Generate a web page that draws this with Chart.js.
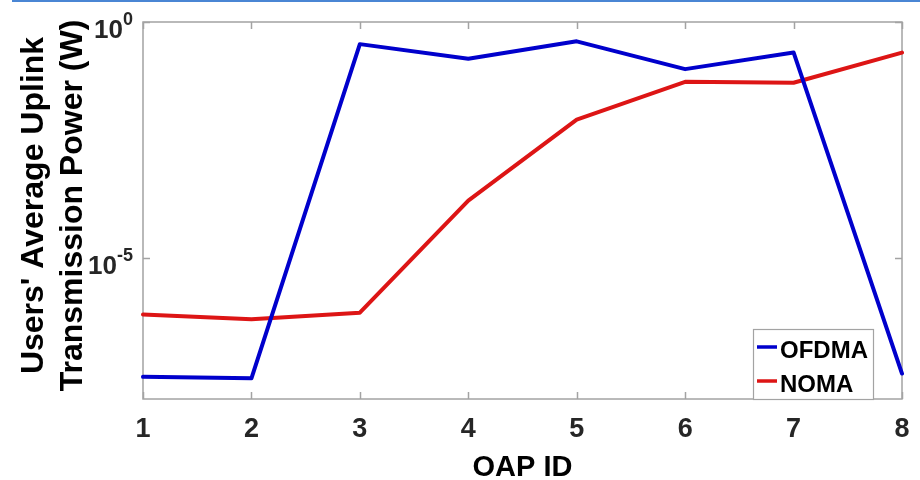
<!DOCTYPE html>
<html>
<head>
<meta charset="utf-8">
<script src="https://cdn.jsdelivr.net/npm/chart.js@4/dist/chart.umd.min.js"></script>
<style>
  html, body { margin: 0; padding: 0; background: #fff; }
  #wrap { position: relative; width: 920px; height: 480px; }
  #topbar { position: absolute; left: 12px; top: 0; width: 908px; height: 2px; background: #4a86d4; }
</style>
</head>
<body>
<div id="wrap">
  <canvas id="chart" width="920" height="480"></canvas>
  <div id="topbar"></div>
</div>
<script>
// OAP ids along x
const oapIds = ['1', '2', '3', '4', '5', '6', '7', '8'];
// average uplink transmit power (W)
const ofdmaPower = [2.95e-8, 2.75e-8, 0.339, 0.166, 0.389, 0.100, 0.226, 3.47e-8];
const nomaPower  = [6.2e-7, 4.9e-7, 6.8e-7, 1.62e-4, 8.5e-3, 0.0537, 0.0513, 0.224];
// labelled decades on the y axis: [value, exponent text]
const yTickValues = [1, 1e-5];
const yTickExps   = ['0', '-5'];

const FONT = '"Liberation Sans", Arial, sans-serif';
const AXIS_GREY = '#a3a3a3';
const TICK_TEXT = '#262626';

// MATLAB-style box, inward ticks, labels, titles and legend
const matlabAxes = {
  id: 'matlabAxes',
  beforeDatasetsDraw(chart) {
    const { ctx, chartArea: a, scales: { x, y } } = chart;
    ctx.save();
    ctx.strokeStyle = AXIS_GREY;
    ctx.lineWidth = 1.5;
    ctx.strokeRect(a.left, a.top, a.right - a.left, a.bottom - a.top);
    ctx.beginPath();
    oapIds.forEach((_, i) => {
      const px = Math.round(x.getPixelForTick(i)) + 0.5;
      ctx.moveTo(px, a.bottom); ctx.lineTo(px, a.bottom - 7);
      ctx.moveTo(px, a.top);    ctx.lineTo(px, a.top + 7);
    });
    yTickValues.forEach(v => {
      const py = Math.round(y.getPixelForValue(v)) + 0.5;
      ctx.moveTo(a.left, py);  ctx.lineTo(a.left + 7, py);
      ctx.moveTo(a.right, py); ctx.lineTo(a.right - 7, py);
    });
    ctx.stroke();
    ctx.restore();
  },
  afterDraw(chart) {
    const { ctx, chartArea: a, scales: { x, y } } = chart;
    ctx.save();

    // x tick labels
    ctx.fillStyle = TICK_TEXT;
    ctx.font = 'bold 27px ' + FONT;
    ctx.textAlign = 'center';
    ctx.textBaseline = 'alphabetic';
    oapIds.forEach((lab, i) => ctx.fillText(lab, x.getPixelForTick(i), a.bottom + 38));

    // y tick labels 10^n
    yTickValues.forEach((v, i) => {
      const py = y.getPixelForValue(v);
      const right = a.left - 10;
      ctx.font = 'bold 18px ' + FONT;
      ctx.textAlign = 'right';
      const supW = ctx.measureText(yTickExps[i]).width;
      ctx.fillText(yTickExps[i], right, py + 3);
      ctx.font = 'bold 26px ' + FONT;
      ctx.fillText('10', right - supW, py + 16);
    });

    // x title
    ctx.fillStyle = '#000';
    ctx.font = 'bold 29px ' + FONT;
    ctx.textAlign = 'center';
    ctx.fillText('OAP ID', (a.left + a.right) / 2, 476);

    // y title, two lines rotated
    const cy = (a.top + a.bottom) / 2 - 5;
    ctx.font = 'bold 32px ' + FONT;
    [["Users' Average Uplink", 43], ['Transmission Power (W)', 82]].forEach(([txt, bx]) => {
      ctx.save();
      ctx.translate(bx, cy);
      ctx.rotate(-Math.PI / 2);
      ctx.textAlign = 'center';
      ctx.fillText(txt, 0, 0);
      ctx.restore();
    });

    // legend in the lower right corner
    const lx = 753, ly = 329, lw = 120, lh = 70;
    ctx.fillStyle = '#fff';
    ctx.fillRect(lx, ly, lw, lh);
    ctx.strokeStyle = AXIS_GREY;
    ctx.lineWidth = 1.2;
    ctx.strokeRect(lx + 0.5, ly + 0.5, lw, lh);
    ctx.font = 'bold 24px ' + FONT;
    ctx.textAlign = 'left';
    chart.data.datasets.forEach((ds, i) => {
      const rowY = ly + 18 + i * 34;
      ctx.strokeStyle = ds.borderColor;
      ctx.lineWidth = 3.5;
      ctx.beginPath();
      ctx.moveTo(lx + 4, rowY); ctx.lineTo(lx + 24, rowY);
      ctx.stroke();
      ctx.fillStyle = '#000';
      ctx.fillText(ds.label, lx + 27, rowY + 11);
    });

    ctx.restore();
  }
};

new Chart(document.getElementById('chart'), {
  type: 'line',
  data: {
    labels: oapIds,
    datasets: [
      { label: 'OFDMA', data: ofdmaPower, borderColor: '#0000cc', borderWidth: 4,
        pointRadius: 0, tension: 0, borderJoinStyle: 'round', borderCapStyle: 'round' },
      { label: 'NOMA', data: nomaPower, borderColor: '#dd1515', borderWidth: 4,
        pointRadius: 0, tension: 0, borderJoinStyle: 'round', borderCapStyle: 'round' }
    ]
  },
  options: {
    responsive: false,
    animation: false,
    devicePixelRatio: 1,
    layout: { padding: { left: 0, right: 18, top: 22, bottom: 0 } },
    plugins: { legend: { display: false }, tooltip: { enabled: false } },
    scales: {
      x: {
        type: 'category',
        offset: false,
        grid: { display: false },
        border: { display: false },
        ticks: { display: false },
        afterFit: s => { s.height = 81; }
      },
      y: {
        type: 'logarithmic',
        min: 1e-8,
        max: 1,
        grid: { display: false },
        border: { display: false },
        ticks: { display: false },
        afterFit: s => { s.width = 143; }
      }
    }
  },
  plugins: [matlabAxes]
});
</script>
</body>
</html>
